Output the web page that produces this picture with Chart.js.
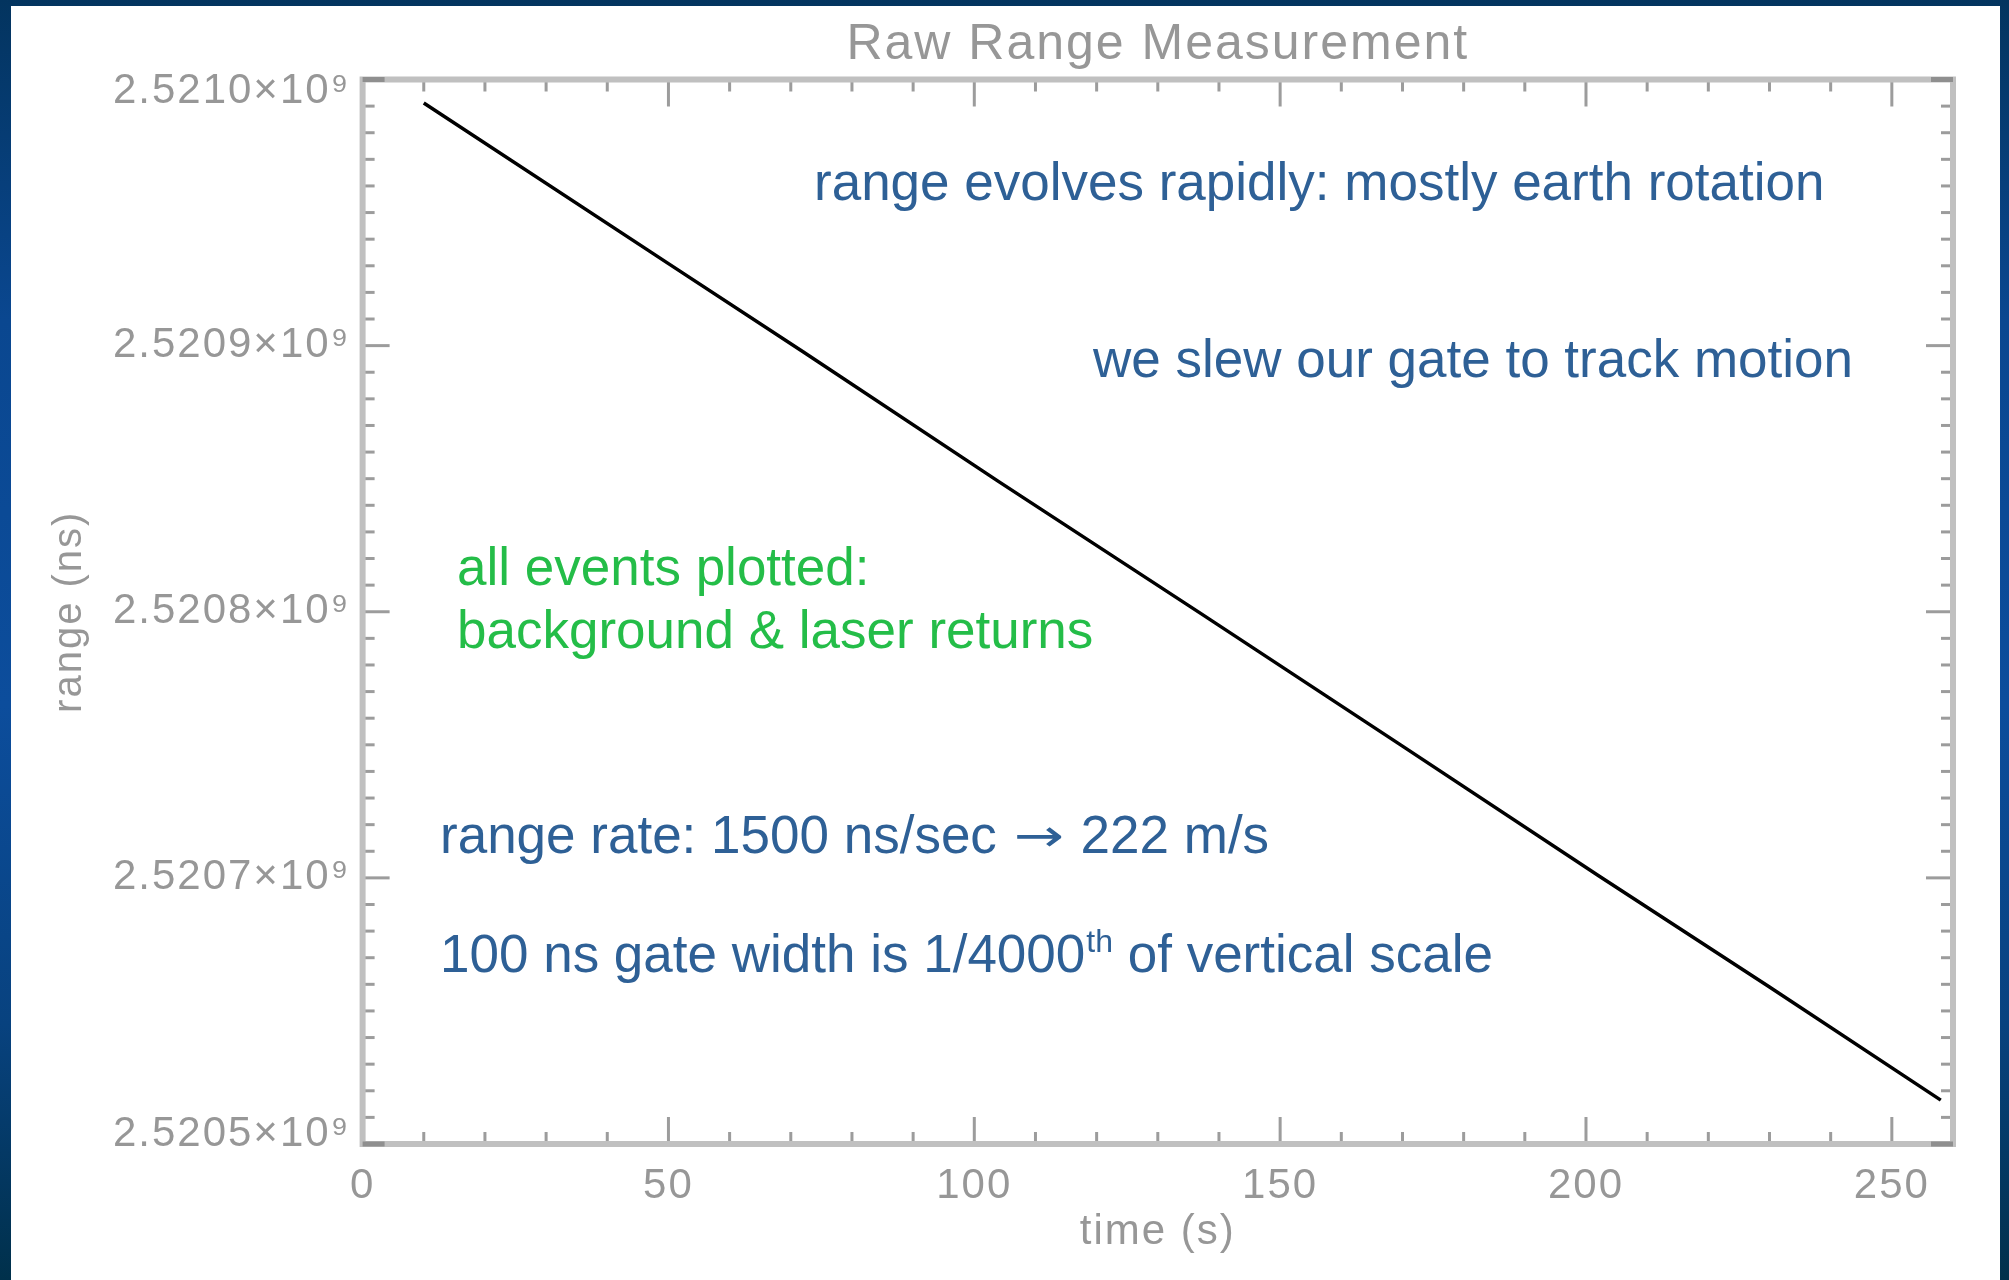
<!DOCTYPE html>
<html>
<head>
<meta charset="utf-8">
<title>Raw Range Measurement</title>
<script src="https://cdn.jsdelivr.net/npm/chart.js@4.4.1/dist/chart.umd.min.js"></script>
<style>
  html, body { margin: 0; padding: 0; }
  body {
    width: 2009px; height: 1280px; overflow: hidden;
    background: linear-gradient(180deg, #03345f 0%, #0a4790 25%, #0c4d9c 55%, #08427f 80%, #00304b 100%);
  }
  #wrap { position: absolute; left: 0; top: 0; width: 2009px; height: 1280px; }
</style>
</head>
<body>
<div id="wrap"><canvas id="chart"></canvas></div>
<script>
// time (s) vs raw range (ns)
const times  = [10, 50, 72, 104, 137, 170, 202, 230, 258]
const ranges = [2520991200, 2520930800, 2520897700, 2520848900, 2520799400, 2520749500, 2520700900, 2520659000, 2520616500]

const xTicks = [0, 50, 100, 150, 200, 250]
const xTickLabels = ['0', '50', '100', '150', '200', '250']
const yTicks = [2520600000, 2520700000, 2520800000, 2520900000, 2521000000]
// bottom label really does read 2.5205 in the original
const yTickLabels = ['2.5205×10⁹', '2.5207×10⁹', '2.5208×10⁹', '2.5209×10⁹', '2.5210×10⁹']

const GREY = '#979797'
const BLUE = '#2e6096'
const GREEN = '#24bd48'
const AXIS_FONT = '"Liberation Sans", Arial, sans-serif'
const NOTE_FONT = '53px "Liberation Sans", Arial, sans-serif'
const ARROW_FONT = '50px "DejaVu Sans", sans-serif'
const SUP_FONT = '32px "Liberation Sans", Arial, sans-serif'

// slide annotations; parts are plain strings or {t, sup} / {t, arrow}
const notes = [
  { x: 814, y: 200, color: BLUE, parts: ['range evolves rapidly: mostly earth rotation'] },
  { x: 1093, y: 377, color: BLUE, parts: ['we slew our gate to track motion'] },
  { x: 457, y: 585, color: GREEN, parts: ['all events plotted:'] },
  { x: 457, y: 648, color: GREEN, parts: ['background & laser returns'] },
  { x: 440, y: 853, color: BLUE, parts: ['range rate: 1500 ns/sec ', { t: '\u2192', arrow: true }, ' 222 m/s'] },
  { x: 440, y: 972, color: BLUE, parts: ['100 ns gate width is 1/4000', { t: 'th', sup: true }, ' of vertical scale'] }
]

// IDL style box: frame on all four sides, major + minor ticks pointing inward
const idlFrame = {
  id: 'idlFrame',
  beforeDraw(chart) {
    const ctx = chart.ctx
    ctx.save()
    ctx.fillStyle = '#ffffff'
    ctx.fillRect(11, 6, chart.width - 20, chart.height - 6)
    ctx.restore()
    ctx.letterSpacing = '2px'   // IDL vector font is spaced out

    // IDL pulls the end labels of the y axis inside the box
    const items = chart.scales.y.getLabelItems(chart.chartArea)
    if (items.length) {
      items[0].options.translation[1] -= 10
      items[items.length - 1].options.translation[1] += 12
    }
  },
  beforeDatasetsDraw(chart) {
    const { ctx, chartArea: a, scales: { x, y } } = chart
    const seg = (x1, y1, x2, y2) => {
      ctx.beginPath(); ctx.moveTo(x1, y1); ctx.lineTo(x2, y2); ctx.stroke()
    }
    ctx.save()
    ctx.strokeStyle = '#9c9c9c'
    ctx.lineWidth = 3
    for (let v = x.min; v <= x.max; v += 10) {
      const px = x.getPixelForValue(v)
      const len = v % 50 === 0 ? 27 : 12
      seg(px, a.bottom, px, a.bottom - len)
      seg(px, a.top, px, a.top + len)
    }
    for (let v = y.min; v <= y.max; v += 10000) {
      const py = y.getPixelForValue(v)
      const len = (v - y.min) % 100000 === 0 ? 27 : 12
      seg(a.left, py, a.left + len, py)
      seg(a.right, py, a.right - len, py)
    }
    ctx.strokeStyle = '#c0c0c0'
    ctx.lineWidth = 6
    ctx.strokeRect(a.left, a.top, a.right - a.left, a.bottom - a.top)
    // darker corner pieces
    ctx.strokeStyle = '#8f8f8f'
    ctx.lineWidth = 5
    seg(a.left, a.bottom, a.left + 22, a.bottom)
    seg(a.left, a.top, a.left + 22, a.top)
    seg(a.right - 22, a.bottom, a.right, a.bottom)
    seg(a.right - 22, a.top, a.right, a.top)
    ctx.restore()
  },
  afterDraw(chart) {
    const ctx = chart.ctx
    ctx.save()
    ctx.letterSpacing = '0px'
    ctx.textBaseline = 'alphabetic'
    ctx.textAlign = 'left'
    notes.forEach(n => {
      ctx.fillStyle = n.color
      let cx = n.x
      n.parts.forEach(p => {
        const piece = typeof p === 'string' ? { t: p } : p
        if (piece.arrow) {
          // long thin arrow as in the slide: stretch the glyph sideways
          ctx.font = ARROW_FONT
          const w = ctx.measureText(piece.t).width
          ctx.save()
          ctx.translate(cx + 2, n.y - 2)
          ctx.scale(1.2, 0.9)
          ctx.fillText(piece.t, 0, 0)
          ctx.restore()
          cx += w * 1.2 + 4
          return
        }
        ctx.font = piece.sup ? SUP_FONT : NOTE_FONT
        if (piece.sup) cx += 1
        ctx.fillText(piece.t, cx, n.y + (piece.sup ? -20 : 0))
        cx += ctx.measureText(piece.t).width
      })
    })
    ctx.restore()
  }
}

new Chart(document.getElementById('chart'), {
  type: 'line',
  data: {
    datasets: [{
      data: times.map((t, i) => ({ x: t, y: ranges[i] })),
      borderColor: '#000000',
      borderWidth: 3.5,
      pointRadius: 0,
      tension: 0
    }]
  },
  options: {
    responsive: true,
    maintainAspectRatio: false,
    animation: false,
    layout: { padding: { left: 0, right: 56, top: 0, bottom: 0 } },
    plugins: {
      legend: { display: false },
      tooltip: { enabled: false }
    },
    scales: {
      x: {
        type: 'linear',
        min: 0,
        max: 260,
        grid: { display: false, drawTicks: false },
        border: { display: false },
        afterBuildTicks: s => { s.ticks = xTicks.map(v => ({ value: v })) },
        afterFit: s => { s.height = 136 },
        ticks: {
          color: GREY,
          font: { family: AXIS_FONT, size: 42 },
          padding: 17,
          maxRotation: 0,
          callback: v => xTickLabels[xTicks.indexOf(v)]
        },
        title: {
          display: true,
          text: 'time (s)',
          color: GREY,
          font: { family: AXIS_FONT, size: 42 },
          padding: { top: 0, bottom: 22 }
        }
      },
      // top axis only carries the plot title, centred over the plot box
      top: {
        type: 'linear',
        position: 'top',
        min: 0,
        max: 260,
        grid: { display: false, drawTicks: false },
        border: { display: false },
        ticks: { display: false },
        afterFit: s => { s.height = 79.5 },
        title: {
          display: true,
          text: 'Raw Range Measurement',
          color: GREY,
          font: { family: AXIS_FONT, size: 50 },
          padding: { top: 15, bottom: 0 }
        }
      },
      y: {
        type: 'linear',
        min: 2520600000,
        max: 2521000000,
        grid: { display: false, drawTicks: false },
        border: { display: false },
        afterBuildTicks: s => { s.ticks = yTicks.map(v => ({ value: v })) },
        afterFit: s => { s.width = 362.6 },
        ticks: {
          color: GREY,
          font: { family: AXIS_FONT, size: 42 },
          padding: 12,
          callback: v => yTickLabels[yTicks.indexOf(v)]
        },
        title: {
          display: true,
          text: 'range (ns)',
          color: GREY,
          font: { family: AXIS_FONT, size: 40 },
          padding: { top: 46, bottom: 0 }
        }
      }
    }
  },
  plugins: [idlFrame]
})
</script>
</body>
</html>
